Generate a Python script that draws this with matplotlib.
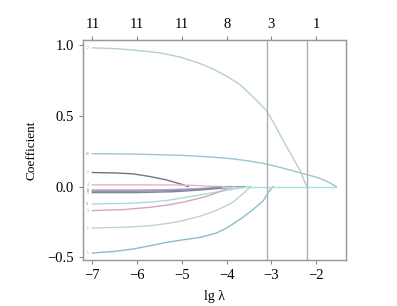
import matplotlib
matplotlib.use("Agg")
import matplotlib.pyplot as plt

plt.rcParams['font.family'] = ['Liberation Serif', 'DejaVu Serif']

# coefficient paths: (lg lambda, coefficient)
path_a_x = [-7, -6.5, -6.1, -5.5, -5.04, -4.6, -4.3, -4, -3.7, -3.4, -3.12, -2.95, -2.74, -2.55, -2.36, -2.23, -2.2]
path_a_y = [0.98, 0.975, 0.965, 0.945, 0.915, 0.87, 0.83, 0.78, 0.72, 0.63, 0.54, 0.45, 0.326, 0.22, 0.113, 0.014, 0.0]
path_b_x = [-7, -6, -4.98, -4.4, -3.86, -3.5, -3.12, -2.74, -2.36, -2.0, -1.78, -1.55]
path_b_y = [0.232, 0.229, 0.22, 0.21, 0.196, 0.18, 0.16, 0.13, 0.097, 0.066, 0.04, 0.0]
path_c_x = [-7, -6.5, -6.1, -5.72, -5.35, -5.04, -4.86]
path_c_y = [0.099, 0.096, 0.09, 0.071, 0.047, 0.019, 0.0]
path_d_x = [-7, -6, -5.2, -4.75, -4.4, -4.1]
path_d_y = [0.012, 0.012, 0.011, 0.008, 0.003, 0.0]
path_e_x = [-7, -6, -5.2, -4.6, -4.2, -3.9]
path_e_y = [-0.024, -0.024, -0.021, -0.014, -0.005, 0.0]
path_f_x = [-7, -6, -5.2, -4.6, -4.1, -3.75]
path_f_y = [-0.033, -0.033, -0.029, -0.019, -0.007, 0.0]
path_g_x = [-7, -6, -5.2, -4.6, -4.0, -3.6]
path_g_y = [-0.043, -0.043, -0.037, -0.025, -0.009, 0.0]
path_h_x = [-7, -6.3, -5.72, -5.3, -4.98, -4.6, -4.24, -3.95, -3.72, -3.48]
path_h_y = [-0.123, -0.12, -0.111, -0.097, -0.08, -0.06, -0.04, -0.024, -0.012, 0.0]
path_i_x = [-7, -6.3, -5.72, -5.3, -4.98, -4.7, -4.39, -4.2, -4.01, -3.79]
path_i_y = [-0.17, -0.163, -0.147, -0.13, -0.111, -0.09, -0.064, -0.042, -0.017, 0.0]
path_j_x = [-7, -6.3, -5.72, -5.3, -4.98, -4.6, -4.24, -4.05, -3.86, -3.64, -3.46]
path_j_y = [-0.293, -0.288, -0.277, -0.26, -0.241, -0.21, -0.17, -0.142, -0.111, -0.052, 0.0]
path_k_x = [-7, -6.5, -6.1, -5.7, -5.35, -4.98, -4.6, -4.24, -4.05, -3.86, -3.67, -3.48, -3.3, -3.18, -3.07, -2.96]
path_k_y = [-0.47, -0.458, -0.442, -0.418, -0.395, -0.377, -0.36, -0.33, -0.302, -0.265, -0.225, -0.18, -0.133, -0.1, -0.04, 0.0]
zero_x = [-4.1, -1.55]
zero_y = [0.0, 0.0]

paths = [
    (path_a_x, path_a_y, '#b5d3bf', '2'),
    (path_b_x, path_b_y, '#9ec4d2', '10'),
    (path_c_x, path_c_y, '#74747f', '7'),
    (path_d_x, path_d_y, '#e2b4cc', '4'),
    (path_e_x, path_e_y, '#c4a4cc', '8'),
    (path_f_x, path_f_y, '#8e86a8', '6'),
    (path_g_x, path_g_y, '#7c8aa0', '9'),
    (path_h_x, path_h_y, '#a8dcdc', '11'),
    (path_i_x, path_i_y, '#d8a4bc', '3'),
    (path_j_x, path_j_y, '#bcd8bc', '1'),
    (path_k_x, path_k_y, '#8cbccc', '5'),
]

top_ticks = [-7, -6, -5, -4, -3, -2]
top_labels = ['11', '11', '11', '8', '3', '1']
vlines = [-3.11, -2.2]

fig = plt.figure(figsize=(3.97, 3.06), dpi=100)
ax = fig.add_axes([0.209, 0.150, 0.663, 0.719])

for px, py, col, lab in paths:
    ax.plot(px, py, color=col, lw=1.0, solid_joinstyle='round')
    ax.text(-7.08, py[0], lab, fontsize=2.5, color='#888888', ha='right', va='center')
ax.plot(zero_x, zero_y, color='#a8e0e0', lw=1.0)

for v in vlines:
    ax.axvline(v, color='#b0b0b0', lw=1.0)

ax.set_xlim(-7.21, -1.33)
ax.set_ylim(-0.52, 1.035)
ax.set_xticks([-7, -6, -5, -4, -3, -2])
ax.set_xticklabels(['\u22127', '\u22126', '\u22125', '\u22124', '\u22123', '\u22122'])
ax.set_yticks([-0.5, 0.0, 0.5, 1.0])
ax.set_yticklabels(['\u22120.5', '0.0', '0.5', '1.0'])
ax.tick_params(labelsize=10.5, colors='#888888', labelcolor='black', length=3)
for s in ax.spines.values():
    s.set_color('#999999')
    s.set_linewidth(1.0)

top = ax.twiny()
top.set_xlim(ax.get_xlim())
top.set_xticks(top_ticks)
top.set_xticklabels(top_labels)
top.tick_params(labelsize=10.5, colors='#888888', labelcolor='black', length=3)
for s in top.spines.values():
    s.set_color('#999999')

ax.set_xlabel('lg \u03bb', fontsize=10, labelpad=6)
ax.set_ylabel('Coefficient', fontsize=9.5, labelpad=7)

fig.savefig('out.png', dpi=100)
